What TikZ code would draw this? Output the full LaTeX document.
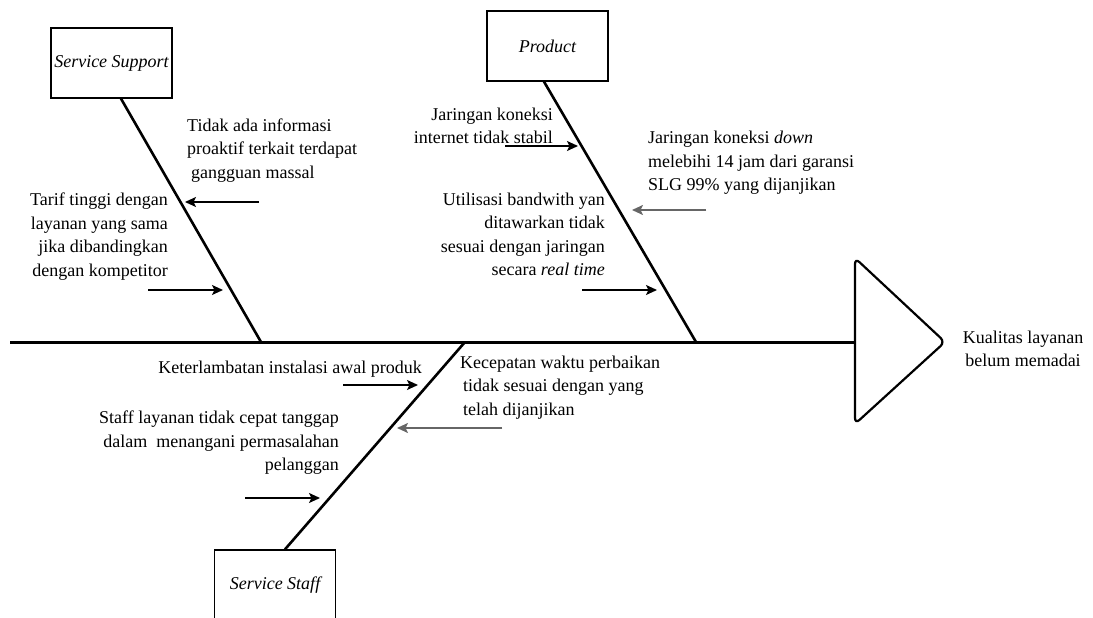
\documentclass[tikz,border=0pt]{standalone}
\usepackage{fontspec}
\setmainfont{Liberation Serif}
\usetikzlibrary{arrows.meta,calc}
\begin{document}
\begin{tikzpicture}[x=1pt,y=-1pt,
  txt/.style={font=\fontsize{18}{23.5}\selectfont, inner sep=0pt},
  catbox/.style={draw, line width=1.3pt, minimum width=121pt, minimum height=70pt, font=\fontsize{18}{23.5}\selectfont\itshape, inner sep=0pt},
  bone/.style={line width=2.6pt},
  spine/.style={line width=3pt},
  cause/.style={line width=1.6pt, -{Stealth[length=11pt,width=10pt,inset=2.5pt]}},
  gcause/.style={cause, line width=2pt, draw=black!60, fill=black!60}]
\useasboundingbox (0,0) rectangle (1093,618);
\clip (0,0) rectangle (1093,618);

% head
\coordinate (tail) at (10,342);
\coordinate (head) at (855,342);
\draw[spine] (tail) -- (head);
\draw[line width=2.2pt, rounded corners=6pt] (head) -- (855,258) -- (945,342) -- (855,424) -- cycle;
\node[txt, align=center] (effect) at (1023,349) {Kualitas layanan\\belum memadai};

% category boxes
\node[catbox] (ssBox) at (111.5,63) {Service Support};
\node[catbox] (prodBox) at (547.5,46) {Product};
\node[catbox] (staffBox) at (275,585) {Service Staff};

% bones
\coordinate (ssJoin) at (261,342);
\coordinate (prodJoin) at (696,342);
\coordinate (staffJoin) at (465,342);
\draw[bone] ([xshift=9.5pt]ssBox.south) -- (ssJoin);
\draw[bone] ([xshift=-3.5pt]prodBox.south) -- (prodJoin);
\draw[bone] ([xshift=10pt]staffBox.north) -- (staffJoin);

% Service Support causes
\node[txt, align=left, anchor=west] (ss1) at (187,150.5) {Tidak ada informasi\\proaktif terkait terdapat\\\hspace*{4pt}gangguan massal};
\coordinate (ss1a) at (259,202); \coordinate (ss1b) at (185,202);
\draw[cause] (ss1a) -- (ss1b);
\node[txt, align=right, anchor=east] (ss2) at (168,236.5) {Tarif tinggi dengan\\layanan yang sama\\jika dibandingkan\\dengan kompetitor};
\coordinate (ss2a) at (148,290); \coordinate (ss2b) at (223,290);
\draw[cause] (ss2a) -- (ss2b);

% Product causes
\node[txt, align=right, anchor=east] (p1) at (553,126) {Jaringan koneksi\\internet tidak stabil};
\coordinate (p1a) at (505,146); \coordinate (p1b) at (578,146);
\draw[cause] (p1a) -- (p1b);
\node[txt, align=left, anchor=west] (p2) at (648,163) {Jaringan koneksi \textit{down}\\melebihi 14 jam dari garansi\\SLG 99\% yang dijanjikan};
\coordinate (p2a) at (706,210); \coordinate (p2b) at (632,210);
\draw[gcause] (p2a) -- (p2b);
\node[txt, align=right, anchor=east] (p3) at (605,234.5) {Utilisasi bandwith yan\\ditawarkan tidak\\sesuai dengan jaringan\\secara \textit{real time}};
\coordinate (p3a) at (582,290); \coordinate (p3b) at (657,290);
\draw[cause] (p3a) -- (p3b);

% Service Staff causes
\node[txt, align=right, anchor=east] (st1) at (422,369) {Keterlambatan instalasi awal produk};
\coordinate (st1a) at (343,385); \coordinate (st1b) at (418,385);
\draw[cause] (st1a) -- (st1b);
\node[txt, align=left, anchor=west] (st2) at (460,387.5) {Kecepatan waktu perbaikan\\\hspace*{3pt}tidak sesuai dengan yang\\\hspace*{3pt}telah dijanjikan};
\coordinate (st2a) at (502,428); \coordinate (st2b) at (397,428);
\draw[gcause] (st2a) -- (st2b);
\node[txt, align=right, anchor=east] (st3) at (339,443) {Staff layanan tidak cepat tanggap\\dalam\hspace*{4.5pt} menangani permasalahan\\pelanggan};
\coordinate (st3a) at (245,498); \coordinate (st3b) at (320,498);
\draw[cause] (st3a) -- (st3b);
\end{tikzpicture}
\end{document}
